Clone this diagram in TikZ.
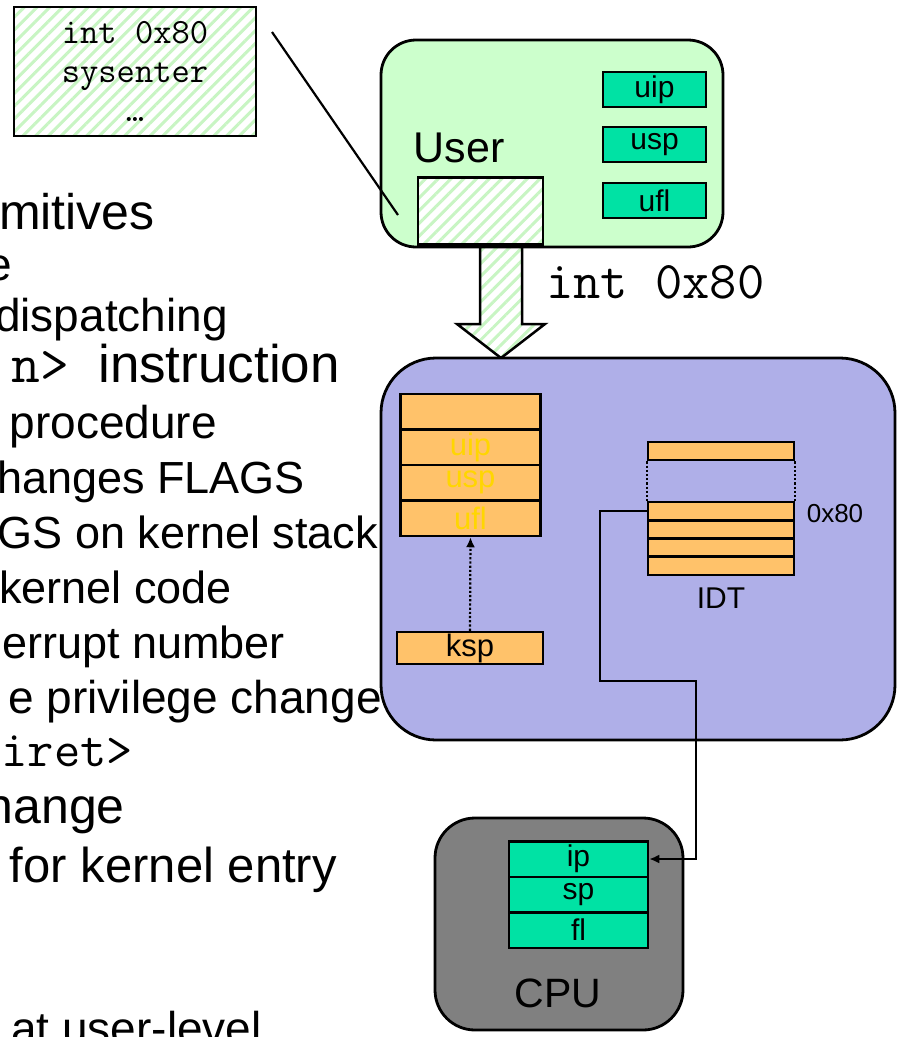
\documentclass[tikz,border=0pt]{standalone}
\usepackage{fontspec}
\setmainfont{Liberation Sans}
\usepackage{tikz}
\usetikzlibrary{arrows.meta,patterns.meta,positioning}

\definecolor{userfill}{RGB}{204,255,204}
\definecolor{hatchgreen}{RGB}{200,245,195}
\definecolor{regfill}{RGB}{0,226,164}
\definecolor{kernfill}{RGB}{175,175,232}
\definecolor{slotfill}{RGB}{255,194,106}
\definecolor{slottext}{RGB}{255,214,0}
\definecolor{cpufill}{RGB}{128,128,128}

\newcommand{\fsz}[2]{\fontsize{#1}{#2}\selectfont}

\tikzset{
  hatched/.style={fill=white,
    postaction={pattern={Lines[angle=45,distance=9pt,line width=3pt]}, pattern color=hatchgreen},
    postaction={draw, line width=2.5pt}},
  realm/.style={draw, line width=2.8pt, inner sep=0pt},
  reg/.style={draw, line width=2.5pt, fill=regfill, minimum width=103pt, minimum height=35pt,
    inner sep=0pt, font=\fsz{30}{32}},
  cpureg/.style={reg, minimum width=139pt, minimum height=35.5pt},
  slot/.style={draw, line width=2.5pt, fill=slotfill, minimum width=140pt, minimum height=35.5pt,
    inner sep=0pt, font=\fsz{31}{33}, text=slottext},
  idtrow/.style={draw, line width=2.5pt, fill=slotfill, minimum width=146pt, minimum height=18.25pt,
    inner sep=0pt},
  bullet/.style={anchor=base east, inner sep=0pt, font=\fsz{45}{48}},
}

\begin{document}
\begin{tikzpicture}[x=1pt, y=-1pt]

    \useasboundingbox (0,0) rectangle (897,1037);

    % slide text, cut off at the left
    \node[bullet, font=\fsz{50}{52}] (l1) at (155,229) {mitives};
    \node[bullet, font=\fsz{46}{48}] (l2) at (12,280) {e};
    \node[bullet, font=\fsz{46}{48}] (l3) at (228,331) {dispatching};
    \node[bullet, font=\fsz{53}{55}] (l4) at (340,382) {{\fsz{56}{58}\ttfamily n> }instruction};
    \node[bullet, font=\fsz{46}{48}] (l5) at (217,438) {procedure};
    \node[bullet] (l6) at (305,493) {changes FLAGS};
    \node[bullet] (l7) at (378,548) {GS on kernel stack};
    \node[bullet] (l8) at (232,603) {kernel code};
    \node[bullet] (l9) at (285,658) {errupt number};
    \node[bullet, font=\fsz{46}{48}] (l10) at (382,713) {e privilege change};
    \node[bullet, font=\fsz{51}{53}\ttfamily] (l11) at (133,766) {iret>};
    \node[bullet, font=\fsz{50}{52}] (l12) at (125,823) {hange};
    \node[bullet, font=\fsz{49}{51}] (l13) at (337,882) {for kernel entry};
    \node[bullet, font=\fsz{46}{48}] (l14) at (262,1044) {at user-level};

    % user code
    \node[hatched, minimum width=242pt, minimum height=129pt, align=center,
      font=\fsz{35.5}{39}\ttfamily] (code) at (135,71.5) {int 0x80\\sysenter\\…};

    % user side
    \node[realm, fill=userfill, rounded corners=35pt, minimum width=342pt, minimum height=207pt] (user) at (552,143.5) {};
    \node[font=\fsz{43}{45}] (userlbl) at (459,148) {User};
    \node[hatched, minimum width=125pt, minimum height=67pt] (usercode) at (480.5,211) {};
    \node[reg] (uip) at (654.5,89.5) {uip};
    \node[reg] (usp) at (654.5,144.5) {usp};
    \node[reg] (ufl) at (654.5,200.5) {ufl};

    \coordinate (calloutA) at (272,32);
    \coordinate (calloutB) at (398,215);
    \draw[line width=2.2pt] (calloutA) -- (calloutB);

    % trap arrow
    \path[hatched] (480,247) -- (480,324) -- (457,324) -- (501,358) -- (545,324) -- (522,324) -- (522,247) -- cycle;
    \node[anchor=base west, inner sep=0pt, font=\fsz{53}{55}\ttfamily] (traplbl) at (546,298) {int 0x80};

    % kernel side
    \node[realm, fill=kernfill, rounded corners=55pt, minimum width=514pt, minimum height=382pt] (kernel) at (638,549) {};
    \node[slot] (stk1) at (470.5,411.75) {};
    \node[slot] (stk2) at (470.5,447.25) {uip};
    \node[slot] (stk3) at (470.5,482.75) {usp};
    \node[slot] (stk4) at (470.5,518.25) {ufl};
    \node[slot, minimum width=146pt, minimum height=32pt, text=black] (ksp) at (470,648) {ksp};
    \draw[dotted, line width=2.2pt, -{Latex[length=10pt,width=9pt]}] (ksp.north) -- (stk4.south);

    \node[idtrow] (idt0) at (721,451) {};
    \node[idtrow] (idt1) at (721,511.1) {};
    \node[idtrow] (idt2) at (721,529.4) {};
    \node[idtrow] (idt3) at (721,547.6) {};
    \node[idtrow] (idt4) at (721,565.9) {};
    \draw[dotted, line width=2.2pt] (idt0.south west) -- (idt1.north west);
    \draw[dotted, line width=2.2pt] (idt0.south east) -- (idt1.north east);
    \node[font=\fsz{26}{28}] (vec) at (835,514) {0x80};
    \node[font=\fsz{30}{32}] (idtlbl) at (721,598) {IDT};

    % cpu
    \node[realm, fill=cpufill, rounded corners=40pt, minimum width=248pt, minimum height=212pt] (cpu) at (559,924) {};
    \node[cpureg] (ip) at (578.5,859) {ip};
    \node[cpureg] (sp) at (578.5,894.5) {sp};
    \node[cpureg] (fl) at (578.5,930) {fl};
    \node[font=\fsz{41}{43}] (cpulbl) at (558,993) {CPU};

    \draw[line width=2.2pt, -{Latex[length=10pt,width=9pt]}] (idt1.west) -- (600,511.1) -- (600,681) -- (696,681) |- (ip.east);

  \end{tikzpicture}
\end{document}
